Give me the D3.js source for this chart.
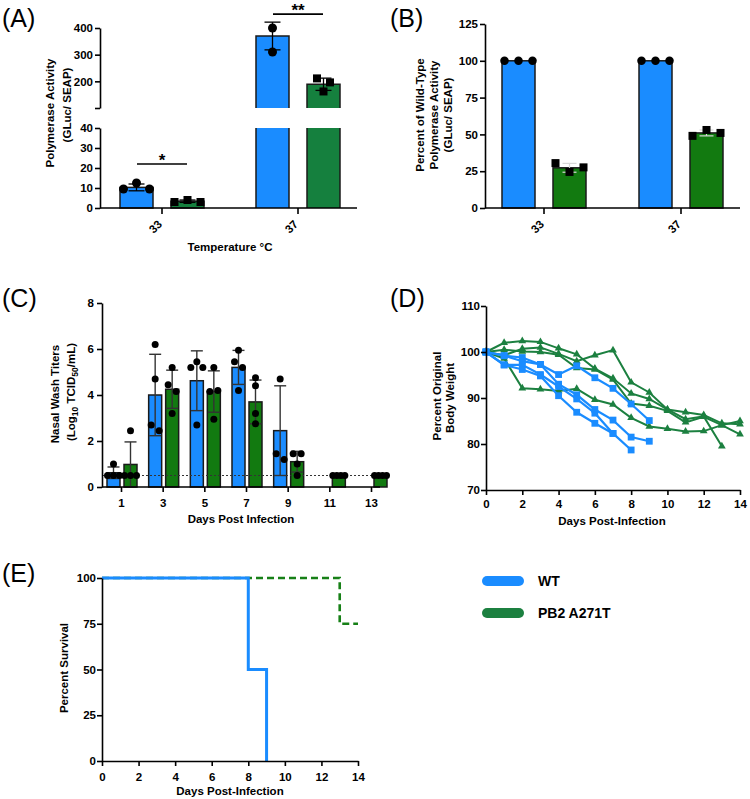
<!DOCTYPE html>
<html><head><meta charset="utf-8">
<script src="https://cdn.jsdelivr.net/npm/d3@7"></script>
<style>
body{margin:0;background:#fff;}
svg text{font-family:"Liberation Sans",Arial,Helvetica,sans-serif;}
</style></head><body>
<svg id="fig" width="750" height="799"></svg>
<script>
// ================= DATA =================
const groups = ["WT", "PB2 A271T"];

// Panel A: polymerase activity (GLuc/SEAP)
const tempsA = ["33", "37"];
const aMeanWT = [10.3, 370];
const aSdWT = [1.7, 52];
const aMeanMut = [3.4, 189];
const aSdMut = [0.6, 23];
const aPtsWT = [[9.5, 12.5, 9.5], [400, 310]];
const aPtsMut = [[3.0, 4.0, 3.0], [211, 196, 162]];
const aTicksLow = [0, 10, 20, 30, 40];
const aTicksHigh = [100, 200, 300, 400];
const aSigLevels = [22, 452];
const aSigLabels = ["*", "**"];

// Panel B: percent of wild-type activity
const tempsB = ["33", "37"];
const bMeanWT = [100, 100];
const bSdWT = [0, 0];
const bMeanMut = [27.3, 51];
const bSdMut = [3, 2];
const bPtsWT = [[100, 100, 100], [100, 100, 100]];
const bPtsMut = [[30.5, 24.5, 27.6], [49, 53, 51]];
const bTicks = [0, 25, 50, 75, 100, 125];

// Panel C: nasal wash titers
const daysC = [1, 3, 5, 7, 9, 11, 13];
const cMeanWT = [0.62, 4.0, 4.62, 5.2, 2.45, null, null];
const cSdWT = [0.25, 1.77, 1.3, 0.74, 1.95, null, null];
const cMeanMut = [0.98, 4.25, 4.15, 3.7, 1.1, 0.5, 0.5];
const cSdMut = [0.98, 0.83, 0.9, 0.95, 0.45, 0, 0];
const cPtsWT = [[1.0, 0.5, 0.5, 0.5], [6.2, 4.7, 2.7, 2.45], [5.2, 5.45, 5.2, 2.7], [5.95, 5.45, 5.2, 4.2], [4.7, 1.45, 1.2], [], []];
const cPtsMut = [[2.45, 0.5, 0.5, 0.5], [5.2, 4.45, 4.15, 3.2], [5.2, 4.15, 4.2, 2.95], [4.75, 4.4, 3.2, 2.75], [1.45, 1.45, 1.0, 0.5], [0.5, 0.5, 0.5, 0.5], [0.5, 0.5, 0.5, 0.5]];
const cTicksY = [0, 2, 4, 6, 8];
const cLimit = 0.5;

// Panel D: body weight per mouse
const dDays = [0, 1, 2, 3, 4, 5, 6, 7, 8, 9, 10, 11, 12, 13, 14];
const dWT = [
  [100, 99.2, 98.8, 97.3, 95.1, 97.0, 94.4, 92.1, 88.7, 85.1],
  [100, 99.2, 98.0, 97.3, 93.0, 90.7, 87.5, 85.2, 81.5, 80.6],
  [100, 97.2, 97.2, 95.1, 92.5, 89.8, 86.7, 82.3, 78.7],
  [100, 97.2, 96.2, 94.8, 90.5, 86.9, 84.5, 82.3]
];
const dMut = [
  [100, 102.0, 102.4, 102.2, 100.8, 99.5, 96.4, 94.3, 91.0, 89.8, 87.5, 86.9, 86.3, 84.5, 84.3],
  [100, 99.3, 100.7, 101.0, 99.6, 98.0, 99.3, 100.4, 93.4, 91.2, 87.5, 85.4, 86.0, 79.5],
  [100, 100.5, 100.1, 100.0, 99.4, 96.5, 96.2, 94.0, 88.8, 88.3, 87.2, 84.7, 85.9, 84.1, 82.1],
  [100, 98.6, 92.1, 91.9, 91.5, 92.0, 89.6, 88.6, 85.7, 83.8, 83.3, 82.7, 82.8, 84.1, 85.0]
];
const dTicksX = [0, 2, 4, 6, 8, 10, 12, 14];
const dTicksY = [70, 80, 90, 100, 110];

// Panel E: survival
const eDaysWT = [0, 8, 9];
const eSurvWT = [100, 50, 0];
const eDaysMut = [0, 13, 14];
const eSurvMut = [100, 75, 75];
const eTicksX = [0, 2, 4, 6, 8, 10, 12, 14];
const eTicksY = [0, 25, 50, 75, 100];

// ================= STYLE =================
const BLUE = "#1a8cff";
const GREEN_A = "#15803e";
const GREEN_B = "#127a10";
const GREEN_D = "#1c8040";
const GREEN_E = "#178017";
const FS = 11.5;

const svg = d3.select("#fig");

function styleAxis(g) {
  g.selectAll(".domain").attr("stroke", "#000").attr("stroke-width", 1.6);
  g.selectAll(".tick line").attr("stroke", "#000").attr("stroke-width", 1.6);
  g.selectAll(".tick text").attr("fill", "#000").attr("font-weight", "bold")
    .attr("font-size", FS).attr("font-family", '"Liberation Sans", Arial, sans-serif');
}
function line(x1, y1, x2, y2, w, col) {
  return svg.append("line").attr("x1", x1).attr("y1", y1).attr("x2", x2).attr("y2", y2)
    .attr("stroke", col || "#000").attr("stroke-width", w || 1.6);
}
function panelLabel(t, x, y) {
  svg.append("text").attr("x", x).attr("y", y).attr("font-size", 25).text(t);
}
function yTitle(lines, cx, cy, gap) {
  const g = svg.append("g").attr("transform", `translate(${cx},${cy}) rotate(-90)`);
  lines.forEach((l, i) => {
    const t = g.append("text").attr("x", 0).attr("y", i * gap).attr("text-anchor", "middle")
      .attr("font-weight", "bold").attr("font-size", FS);
    if (typeof l === "string") t.text(l);
    else l(t);
  });
}
function xTitle(t, cx, y) {
  svg.append("text").attr("x", cx).attr("y", y).attr("text-anchor", "middle")
    .attr("font-weight", "bold").attr("font-size", FS).text(t);
}
// spread overlapping points horizontally (scatter-dot-plot style)
function spread(vals, yf, thresh, spacing, maxWidth) {
  const clusters = [];
  const idx = [];
  vals.forEach((v, i) => {
    const py = yf(v);
    let c = clusters.findIndex(cl => cl.some(q => Math.abs(q - py) < thresh));
    if (c < 0) { clusters.push([py]); c = clusters.length - 1; idx.push([c, 0]); }
    else { clusters[c].push(py); idx.push([c, clusters[c].length - 1]); }
  });
  return idx.map(([c, k]) => {
    const n = clusters[c].length;
    const s = n > 1 ? Math.min(spacing, maxWidth / (n - 1)) : 0;
    return (k - (n - 1) / 2) * s;
  });
}
function errBar(x, y1, y2, cap, col, w) {
  line(x, y1, x, y2, w, col);
  line(x - cap / 2, y1, x + cap / 2, y1, w, col);
  line(x - cap / 2, y2, x + cap / 2, y2, w, col);
}
function drawPts(vals, cx, yf, shape, size, thresh, spacing, maxWidth) {
  const offs = spread(vals, yf, thresh, spacing, maxWidth);
  vals.forEach((v, i) => {
    const x = cx + offs[i], y = yf(v);
    if (shape === "circle") svg.append("circle").attr("cx", x).attr("cy", y).attr("r", size / 2).attr("fill", "#000");
    else svg.append("rect").attr("x", x - size / 2).attr("y", y - size / 2).attr("width", size).attr("height", size).attr("fill", "#000");
  });
}

// ================= PANEL A =================
panelLabel("(A)", 2, 27);
const A = { l: 100, r: 357, b: 208, lowTop: 128, highBot: 108, top: 28 };
const xA = d3.scalePoint().domain(tempsA).range([162, 298]);
const subA = d3.scaleBand().domain(groups).range([-42, 42]).paddingInner(18 / 51);
const yALow = d3.scaleLinear().domain([0, 40]).range([A.b, A.lowTop]);
const yAHigh = d3.scaleLinear().domain([100, 400]).range([A.highBot, A.top]);
const yA = v => (v <= 40 ? yALow(v) : yAHigh(v));

tempsA.forEach((t, i) => {
  [[aMeanWT, BLUE], [aMeanMut, GREEN_A]].forEach(([arr, col], gi) => {
    const m = arr[i];
    const x = xA(t) + subA(groups[gi]);
    const w = subA.bandwidth();
    if (m <= 40) {
      svg.append("rect").attr("x", x).attr("y", yALow(m)).attr("width", w).attr("height", A.b - yALow(m))
        .attr("fill", col).attr("stroke", "#1a1a1a").attr("stroke-width", 1.5);
    } else {
      svg.append("rect").attr("x", x).attr("y", A.lowTop).attr("width", w).attr("height", A.b - A.lowTop).attr("fill", col);
      svg.append("rect").attr("x", x).attr("y", yAHigh(m)).attr("width", w).attr("height", A.highBot - yAHigh(m)).attr("fill", col);
      svg.append("path").attr("d", `M${x},${A.b}V${A.lowTop}M${x + w},${A.b}V${A.lowTop}M${x},${A.highBot}V${yAHigh(m)}H${x + w}V${A.highBot}`)
        .attr("fill", "none").attr("stroke", "#1a1a1a").attr("stroke-width", 1.5);
    }
  });
});
tempsA.forEach((t, i) => {
  [[aMeanWT, aSdWT, aPtsWT, "circle", 9], [aMeanMut, aSdMut, aPtsMut, "square", 8]].forEach(([mArr, sArr, pArr, shape, sz], gi) => {
    const cx = xA(t) + subA(groups[gi]) + subA.bandwidth() / 2;
    errBar(cx, yA(mArr[i] + sArr[i]), yA(mArr[i] - sArr[i]), 16, "#000", 1.3);
    drawPts(pArr[i], cx, yA, shape, sz, 9, 13, 26);
  });
});
// axes A
const gAL = svg.append("g").attr("transform", `translate(${A.l},0)`)
  .call(d3.axisLeft(yALow).tickValues(aTicksLow).tickSize(5).tickPadding(2).tickSizeOuter(0));
styleAxis(gAL);
const gAH = svg.append("g").attr("transform", `translate(${A.l},0)`)
  .call(d3.axisLeft(yAHigh).tickValues(aTicksHigh).tickSize(5).tickPadding(2).tickSizeOuter(0)
    .tickFormat(d => (d === 100 ? "" : d)));
styleAxis(gAH);
line(A.l, A.b, A.r, A.b);
tempsA.forEach(t => {
  line(xA(t), A.b, xA(t), A.b + 6);
  svg.append("text").attr("transform", `translate(${xA(t) - 2},${A.b + 14}) rotate(-45)`)
    .attr("text-anchor", "end").attr("dy", "0.35em").attr("font-weight", "bold").attr("font-size", FS).text(t);
});
// significance
tempsA.forEach((t, i) => {
  const y = yA(aSigLevels[i]);
  line(xA(t) - 25, y, xA(t) + 25, y, 1.6);
  svg.append("text").attr("x", xA(t)).attr("y", y + 2).attr("text-anchor", "middle")
    .attr("font-weight", "bold").attr("font-size", 17).text(aSigLabels[i]);
});
yTitle(["Polymerase Activity"], 54, 113, 0);
yTitle(["(GLuc/ SEAP)"], 71, 105, 0);
xTitle("Temperature °C", 230, 251);

// ================= PANEL B =================
panelLabel("(B)", 390, 27);
const B = { l: 485, r: 740, b: 208, top: 24 };
const xB = d3.scalePoint().domain(tempsB).range([544, 681]);
const subB = d3.scaleBand().domain(groups).range([-42, 42]).paddingInner(18 / 51);
const yB = d3.scaleLinear().domain([0, 125]).range([B.b, B.top]);
tempsB.forEach((t, i) => {
  [[bMeanWT, BLUE], [bMeanMut, GREEN_B]].forEach(([arr, col], gi) => {
    const m = arr[i];
    svg.append("rect").attr("x", xB(t) + subB(groups[gi])).attr("y", yB(m)).attr("width", subB.bandwidth())
      .attr("height", B.b - yB(m)).attr("fill", col).attr("stroke", "#1a1a1a").attr("stroke-width", 1.5);
  });
});
tempsB.forEach((t, i) => {
  [[bMeanWT, bSdWT, bPtsWT, "circle", 8.5], [bMeanMut, bSdMut, bPtsMut, "square", 8]].forEach(([mArr, sArr, pArr, shape, sz], gi) => {
    const cx = xB(t) + subB(groups[gi]) + subB.bandwidth() / 2;
    if (sArr[i] > 0) errBar(cx, yB(mArr[i] + sArr[i]), yB(mArr[i] - sArr[i]), 14, "#d8d8d8", 1.2);
    drawPts(pArr[i], cx, yB, shape, sz, 9, 14, 28);
  });
});
const gBY = svg.append("g").attr("transform", `translate(${B.l},0)`)
  .call(d3.axisLeft(yB).tickValues(bTicks).tickSize(5).tickPadding(2).tickSizeOuter(0));
styleAxis(gBY);
line(B.l, B.b, B.r, B.b);
tempsB.forEach(t => {
  line(xB(t), B.b, xB(t), B.b + 6);
  svg.append("text").attr("transform", `translate(${xB(t) - 2},${B.b + 14}) rotate(-45)`)
    .attr("text-anchor", "end").attr("dy", "0.35em").attr("font-weight", "bold").attr("font-size", FS).text(t);
});
yTitle(["Percent of Wild-Type", "Polymerase Activity", "(GLuc/ SEAP)"], 424, 115, 14);

// ================= PANEL C =================
panelLabel("(C)", 2, 307);
const C = { l: 102, r: 380, b: 487, top: 303 };
const xC = d3.scaleLinear().domain([1, 13]).range([121, 371]);
const subC = d3.scaleBand().domain(groups).range([-14, 16]).paddingInner(4 / 17);
const yC = d3.scaleLinear().domain([0, 8]).range([C.b, C.top]);
daysC.forEach((d, i) => {
  [[cMeanWT, BLUE], [cMeanMut, GREEN_B]].forEach(([arr, col], gi) => {
    const m = arr[i];
    if (m == null) return;
    svg.append("rect").attr("x", xC(d) + subC(groups[gi])).attr("y", yC(m)).attr("width", subC.bandwidth())
      .attr("height", C.b - yC(m)).attr("fill", col).attr("stroke", "#1a1a1a").attr("stroke-width", 1.5);
  });
});
line(C.l, yC(cLimit), C.r, yC(cLimit), 1, "#333").attr("stroke-dasharray", "2,2");
daysC.forEach((d, i) => {
  [[cMeanWT, cSdWT, cPtsWT], [cMeanMut, cSdMut, cPtsMut]].forEach(([mArr, sArr, pArr], gi) => {
    const m = mArr[i];
    if (m == null) return;
    const cx = xC(d) + subC(groups[gi]) + subC.bandwidth() / 2;
    if (sArr[i] > 0) errBar(cx, yC(m + sArr[i]), yC(m - sArr[i]), 12, "#333", 1.4);
    drawPts(pArr[i], cx, yC, "circle", 7, 7, 8, 12);
  });
});
const gCY = svg.append("g").attr("transform", `translate(${C.l},0)`)
  .call(d3.axisLeft(yC).tickValues(cTicksY).tickSize(5).tickPadding(3).tickSizeOuter(0));
styleAxis(gCY);
const gCX = svg.append("g").attr("transform", `translate(0,${C.b})`)
  .call(d3.axisBottom(xC).tickValues(daysC).tickSize(5).tickPadding(7).tickSizeOuter(0));
styleAxis(gCX);
gCX.select(".domain").remove();
line(C.l, C.b, C.r, C.b);
yTitle(["Nasal Wash Titers"], 59, 394, 0);
yTitle([t => {
  t.append("tspan").text("(Log");
  t.append("tspan").attr("font-size", 8.5).attr("dy", 3).text("10");
  t.append("tspan").attr("dy", -3).text(" TCID");
  t.append("tspan").attr("font-size", 8.5).attr("dy", 3).text("50");
  t.append("tspan").attr("dy", -3).text("/mL)");
}], 75, 392, 0);
xTitle("Days Post Infection", 241, 523);

// ================= PANEL D =================
panelLabel("(D)", 390, 307);
const D = { l: 486, r: 740, b: 490, top: 306 };
const xD = d3.scaleLinear().domain([0, 14]).range([D.l, D.r]);
const yD = d3.scaleLinear().domain([70, 110]).range([D.b, D.top]);
const lineD = d3.line().x((v, i) => xD(dDays[i])).y(v => yD(v));
dMut.forEach(s => {
  svg.append("path").attr("d", lineD(s)).attr("fill", "none").attr("stroke", GREEN_D).attr("stroke-width", 2);
  s.forEach((v, i) => {
    svg.append("path").attr("d", d3.symbol(d3.symbolTriangle, 26)())
      .attr("transform", `translate(${xD(dDays[i])},${yD(v)})`).attr("fill", GREEN_D);
  });
});
dWT.forEach(s => {
  svg.append("path").attr("d", lineD(s)).attr("fill", "none").attr("stroke", BLUE).attr("stroke-width", 2.2);
  s.forEach((v, i) => {
    svg.append("rect").attr("x", xD(dDays[i]) - 3.4).attr("y", yD(v) - 3.4).attr("width", 6.8).attr("height", 6.8).attr("fill", BLUE);
  });
});
const gDY = svg.append("g").attr("transform", `translate(${D.l},0)`)
  .call(d3.axisLeft(yD).tickValues(dTicksY).tickSize(5).tickPadding(1).tickSizeOuter(0));
styleAxis(gDY);
const gDX = svg.append("g").attr("transform", `translate(0,${D.b})`)
  .call(d3.axisBottom(xD).tickValues(dTicksX).tickSize(5).tickPadding(5).tickSizeOuter(0));
styleAxis(gDX);
yTitle(["Percent  Original"], 441, 396, 0);
yTitle(["Body Weight"], 454, 398, 0);
xTitle("Days Post-Infection", 612, 525);

// ================= PANEL E =================
panelLabel("(E)", 2, 582);
const E = { l: 102, r: 358, b: 761, top: 578 };
const xE = d3.scaleLinear().domain([0, 14]).range([E.l, E.r]);
const yE = d3.scaleLinear().domain([0, 100]).range([E.b, E.top]);
const stepLine = d3.line().curve(d3.curveStepAfter);
svg.append("path").attr("d", stepLine(eDaysMut.map((d, i) => [xE(d), yE(eSurvMut[i])])))
  .attr("fill", "none").attr("stroke", GREEN_E).attr("stroke-width", 2.6).attr("stroke-dasharray", "7,4");
svg.append("path").attr("d", stepLine(eDaysWT.map((d, i) => [xE(d), yE(eSurvWT[i])])))
  .attr("fill", "none").attr("stroke", BLUE).attr("stroke-width", 3);
const gEY = svg.append("g").attr("transform", `translate(${E.l},0)`)
  .call(d3.axisLeft(yE).tickValues(eTicksY).tickSize(5).tickPadding(1).tickSizeOuter(0));
styleAxis(gEY);
const gEX = svg.append("g").attr("transform", `translate(0,${E.b})`)
  .call(d3.axisBottom(xE).tickValues(eTicksX).tickSize(5).tickPadding(7).tickSizeOuter(0));
styleAxis(gEX);
yTitle(["Percent Survival"], 68, 668, 0);
xTitle("Days Post-Infection", 230, 795);

// ================= LEGEND =================
const legColors = [BLUE, GREEN_D];
groups.forEach((g, i) => {
  const cy = 581 + i * 32;
  svg.append("rect").attr("x", 482).attr("y", cy - 5).attr("width", 42).attr("height", 10).attr("rx", 5).attr("fill", legColors[i]);
  svg.append("text").attr("x", 538).attr("y", cy + 5).attr("font-weight", "bold").attr("font-size", 14).text(g);
});
</script>
</body></html>
